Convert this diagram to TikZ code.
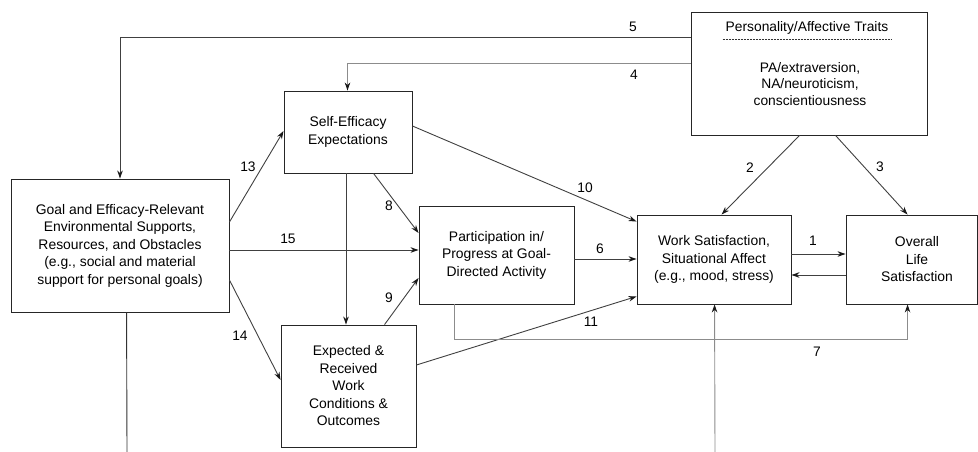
\documentclass[tikz,border=0pt]{standalone}
\usepackage{fontspec}
\setmainfont{Liberation Sans}
\usetikzlibrary{calc,arrows.meta}

\begin{document}
\begin{tikzpicture}[
  x=1pt, y=-1pt,
  box/.style={rectangle, draw=black!85, line width=0.9pt, inner sep=0pt, align=center, font=\fontsize{13.9}{17.5}\selectfont},
  num/.style={inner sep=1pt, font=\fontsize{13.8}{16}\selectfont},
  link/.style={draw=black!75, line width=0.9pt, -{Stealth[length=8pt,width=5.5pt,color=black!90]}},
  faint/.style={link, draw=black!45},
  font=\fontsize{13.8}{17}\selectfont
]
\useasboundingbox (0,0) rectangle (978,452);

\node[box, minimum width=236pt, minimum height=123pt] (traits) at (809,73.5) {};
\node[align=center] (title) at (807,28) {Personality/Affective Traits};
\node[align=center, font=\fontsize{13.8}{16.7}\selectfont] (traitlist) at (810,84) {PA/extraversion,\\NA/neuroticism,\\conscientiousness};
\draw[black!80, line width=0.7pt, dash pattern=on 2pt off 1pt] ($(traits.north west)+(32,27.5)$) -- ($(traits.north west)+(201,27.5)$);

\node[box, minimum width=128pt, minimum height=82pt] (se) at (348,132) {Self-Efficacy\\Expectations};
\node[box, minimum width=218pt, minimum height=133pt] (goal) at (120,245.5) {Goal and Efficacy-Relevant\\Environmental Supports,\\Resources, and Obstacles\\(e.g., social and material\\support for personal goals)};
\node[box, minimum width=155pt, minimum height=98pt] (part) at (496.5,255) {Participation in/\\Progress at Goal-\\Directed Activity};
\node[box, minimum width=154pt, minimum height=89pt] (work) at (714,259.5) {Work Satisfaction,\\Situational Affect\\(e.g., mood, stress)};
\node[box, minimum width=131pt, minimum height=89pt] (overall) at (911.5,259.5) {\hspace*{11pt}Overall\\\hspace*{11pt}Life\\\hspace*{11pt}Satisfaction};
\node[box, minimum width=135pt, minimum height=122pt] (exp) at (348.5,386) {Expected \&\\Received\\Work\\Conditions \&\\Outcomes};

\coordinate (envout) at (127,452);
\coordinate (affin) at (715,452);

% traits
\draw[link] ($(traits.north west)+(0,26)$) -| (goal.north);
\draw[faint] ($(traits.north west)+(0,52)$) -| ($(se.north)+(-0.5,0)$);
\draw[link] ($(traits.south west)+(109,0)$) -- ($(work.north west)+(85,0)$);
\draw[link] ($(traits.south west)+(145,0)$) -- ($(overall.north west)+(62,0)$);

% satisfaction loop
\draw[link] ($(work.east)+(0,-5.5)$) -- ($(overall.west)+(0,-5.5)$);
\draw[link] ($(overall.west)+(0,15.5)$) -- ($(work.east)+(0,15.5)$);

% self-efficacy
\draw[link] ($(se.east)+(0,-6)$) -- ($(work.north west)+(0,7)$);
\draw[link] ($(se.south west)+(90,0)$) -- ($(part.west)+(0,-22)$);
\draw[link] ($(se.south)+(-2,0)$) -- ($(exp.north)+(-2.5,0)$);

% environment
\draw[link] ($(goal.east)+(0,-23.5)$) -- ($(se.west)+(0,-1)$);
\draw[link] ($(goal.east)+(0,4.5)$) -- ($(part.west)+(0,-5)$);
\draw[link] ($(goal.east)+(0,34.5)$) -- ($(exp.west)+(0,-6)$);
\draw[draw=black!80, line width=0.9pt] ($(goal.south west)+(116,0)$) -- (envout);

% outcomes
\draw[link] ($(exp.north west)+(104,0)$) -- ($(part.west)+(0,23)$);
\draw[link] ($(exp.east)+(0,-21)$) -- ($(work.south west)+(0,-8)$);
\draw[link] ($(part.east)+(0,4)$) -- ($(work.west)+(0,-0.5)$);
\draw[faint] ($(part.south west)+(36,0)$) -- ++(0,35) -| ($(overall.south west)+(62,0)$);
\draw[faint] (affin) -- ($(work.south west)+(78,0)$);

% path numbers
\node[num] (n1) at (813,241) {1};
\node[num] (n2) at (750,168) {2};
\node[num] (n3) at (880,167) {3};
\node[num] (n4) at (634,75) {4};
\node[num] (n5) at (633,27) {5};
\node[num] (n6) at (600,249) {6};
\node[num] (n7) at (817,352) {7};
\node[num] (n8) at (389,206) {8};
\node[num] (n9) at (389,298) {9};
\node[num] (n10) at (585,188) {10};
\node[num] (n11) at (591,322) {11};
\node[num] (n13) at (248,167) {13};
\node[num] (n14) at (240,336) {14};
\node[num] (n15) at (288,239) {15};
\end{tikzpicture}
\end{document}
